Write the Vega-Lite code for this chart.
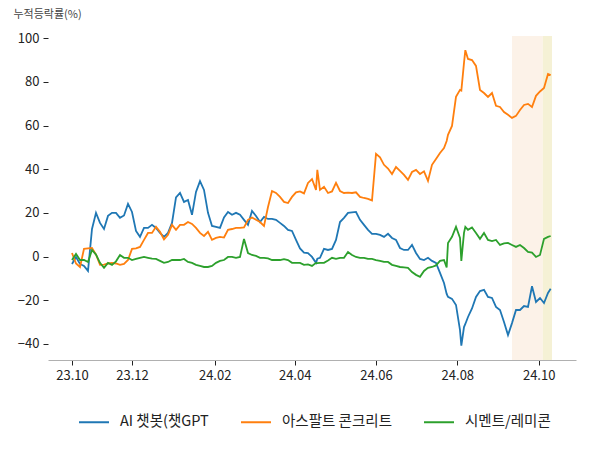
{
  "$schema": "https://vega.github.io/schema/vega-lite/v6.json",
  "width": 528,
  "height": 324,
  "autosize": {"type": "none"},
  "padding": {"left": 48, "top": 36, "right": 24, "bottom": 90},
  "background": "white",
  "config": {"font": "Noto Sans CJK KR", "view": {"stroke": null}, "axis": {"grid": false}},
  "datasets": {
    "bands": [
      {"start": "2024-09-11", "end": "2024-10-04", "kind": "p1"},
      {"start": "2024-10-04", "end": "2024-10-11", "kind": "p2"}
    ],
    "series": [
      {"d": "2023-10-17", "ai": -3.4, "asphalt": 1.6, "cement": -1.6},
      {"d": "2023-10-20", "ai": -0.2, "asphalt": -3.2, "cement": 1.2},
      {"d": "2023-10-23", "ai": -3.4, "asphalt": -4.8, "cement": -1.6},
      {"d": "2023-10-26", "ai": -4.3, "asphalt": 3.5, "cement": -1.6},
      {"d": "2023-10-29", "ai": -6.6, "asphalt": 3.7, "cement": -2.5},
      {"d": "2023-11-01", "ai": 12.6, "asphalt": 3.9, "cement": 3.0},
      {"d": "2023-11-04", "ai": 20.0, "asphalt": 0.9, "cement": 0.9},
      {"d": "2023-11-07", "ai": 15.4, "asphalt": -3.8, "cement": -2.9},
      {"d": "2023-11-10", "ai": 12.6, "asphalt": -3.7, "cement": -5.2},
      {"d": "2023-11-13", "ai": 18.6, "asphalt": -3.2, "cement": -2.9},
      {"d": "2023-11-16", "ai": 20.0, "asphalt": -2.9, "cement": -3.8},
      {"d": "2023-11-19", "ai": 20.0, "asphalt": -3.2, "cement": -2.2},
      {"d": "2023-11-22", "ai": 17.7, "asphalt": -3.8, "cement": 0.7},
      {"d": "2023-11-25", "ai": 18.8, "asphalt": -3.4, "cement": -0.6},
      {"d": "2023-11-28", "ai": 24.1, "asphalt": -1.6, "cement": -0.6},
      {"d": "2023-12-01", "ai": 20.4, "asphalt": 3.5, "cement": -1.6},
      {"d": "2023-12-04", "ai": 11.7, "asphalt": 3.7, "cement": -1.1},
      {"d": "2023-12-07", "ai": 9.0, "asphalt": 4.4, "cement": -0.6},
      {"d": "2023-12-10", "ai": 13.1, "asphalt": 7.6, "cement": -0.2},
      {"d": "2023-12-13", "ai": 13.1, "asphalt": 10.8, "cement": -0.6},
      {"d": "2023-12-16", "ai": 14.5, "asphalt": 10.8, "cement": -1.0},
      {"d": "2023-12-19", "ai": 13.1, "asphalt": 13.6, "cement": -1.1},
      {"d": "2023-12-22", "ai": 10.8, "asphalt": 11.3, "cement": -2.0},
      {"d": "2023-12-25", "ai": 9.0, "asphalt": 7.8, "cement": -2.9},
      {"d": "2023-12-28", "ai": 10.8, "asphalt": 9.9, "cement": -2.5},
      {"d": "2023-12-31", "ai": 15.4, "asphalt": 14.5, "cement": -1.6},
      {"d": "2024-01-03", "ai": 27.1, "asphalt": 12.2, "cement": -1.6},
      {"d": "2024-01-06", "ai": 29.1, "asphalt": 14.5, "cement": -1.6},
      {"d": "2024-01-09", "ai": 25.0, "asphalt": 14.5, "cement": -1.1},
      {"d": "2024-01-12", "ai": 25.9, "asphalt": 15.8, "cement": -2.5},
      {"d": "2024-01-15", "ai": 19.1, "asphalt": 14.9, "cement": -2.9},
      {"d": "2024-01-18", "ai": 29.6, "asphalt": 13.1, "cement": -3.8},
      {"d": "2024-01-21", "ai": 34.5, "asphalt": 10.8, "cement": -4.3},
      {"d": "2024-01-24", "ai": 30.5, "asphalt": 9.4, "cement": -4.8},
      {"d": "2024-01-27", "ai": 20.0, "asphalt": 11.3, "cement": -4.8},
      {"d": "2024-01-30", "ai": 14.0, "asphalt": 7.6, "cement": -4.3},
      {"d": "2024-02-02", "ai": 13.6, "asphalt": 8.5, "cement": -2.9},
      {"d": "2024-02-05", "ai": 13.1, "asphalt": 9.0, "cement": -2.0},
      {"d": "2024-02-08", "ai": 17.9, "asphalt": 8.7, "cement": -1.6},
      {"d": "2024-02-11", "ai": 20.4, "asphalt": 12.2, "cement": -0.2},
      {"d": "2024-02-14", "ai": 19.1, "asphalt": 12.6, "cement": -0.2},
      {"d": "2024-02-17", "ai": 20.0, "asphalt": 13.1, "cement": -0.6},
      {"d": "2024-02-20", "ai": 19.1, "asphalt": 13.1, "cement": -0.2},
      {"d": "2024-02-23", "ai": 16.8, "asphalt": 13.3, "cement": 8.0},
      {"d": "2024-02-26", "ai": 14.5, "asphalt": 16.8, "cement": 1.6},
      {"d": "2024-02-29", "ai": 20.9, "asphalt": 17.9, "cement": 0.7},
      {"d": "2024-03-03", "ai": 18.6, "asphalt": 16.8, "cement": 0.3},
      {"d": "2024-03-06", "ai": 15.8, "asphalt": 15.8, "cement": -0.6},
      {"d": "2024-03-09", "ai": 18.1, "asphalt": 14.0, "cement": -0.6},
      {"d": "2024-03-12", "ai": 17.2, "asphalt": 22.7, "cement": -0.9},
      {"d": "2024-03-15", "ai": 17.2, "asphalt": 30.0, "cement": -1.6},
      {"d": "2024-03-18", "ai": 16.8, "asphalt": 29.1, "cement": -1.6},
      {"d": "2024-03-21", "ai": 15.4, "asphalt": 27.3, "cement": -1.6},
      {"d": "2024-03-24", "ai": 14.0, "asphalt": 25.0, "cement": -1.2},
      {"d": "2024-03-27", "ai": 12.2, "asphalt": 24.5, "cement": -1.6},
      {"d": "2024-03-30", "ai": 11.7, "asphalt": 27.3, "cement": -2.9},
      {"d": "2024-04-02", "ai": 7.6, "asphalt": 29.4, "cement": -2.9},
      {"d": "2024-04-05", "ai": 3.7, "asphalt": 29.8, "cement": -2.9},
      {"d": "2024-04-08", "ai": 1.8, "asphalt": 28.9, "cement": -3.8},
      {"d": "2024-04-11", "ai": 1.6, "asphalt": 33.7, "cement": -3.6},
      {"d": "2024-04-14", "ai": -0.2, "asphalt": 35.5, "cement": -4.3},
      {"d": "2024-04-17", "ai": -2.9, "asphalt": 30.5, "cement": -2.9},
      {"d": "2024-04-18", "ai": -1.0, "asphalt": 39.7, "cement": -3.0},
      {"d": "2024-04-20", "ai": -0.6, "asphalt": 30.5, "cement": -2.9},
      {"d": "2024-04-23", "ai": 3.5, "asphalt": 31.9, "cement": -2.9},
      {"d": "2024-04-26", "ai": 3.0, "asphalt": 29.1, "cement": -1.8},
      {"d": "2024-04-29", "ai": 3.5, "asphalt": 29.8, "cement": -0.6},
      {"d": "2024-05-02", "ai": 7.6, "asphalt": 33.7, "cement": -1.1},
      {"d": "2024-05-05", "ai": 15.8, "asphalt": 30.0, "cement": -0.6},
      {"d": "2024-05-08", "ai": 17.7, "asphalt": 29.1, "cement": -0.6},
      {"d": "2024-05-11", "ai": 20.0, "asphalt": 29.3, "cement": 2.1},
      {"d": "2024-05-14", "ai": 20.2, "asphalt": 29.1, "cement": 0.7},
      {"d": "2024-05-17", "ai": 20.4, "asphalt": 29.4, "cement": -0.2},
      {"d": "2024-05-20", "ai": 16.8, "asphalt": 27.3, "cement": -0.6},
      {"d": "2024-05-23", "ai": 14.5, "asphalt": 26.8, "cement": -0.6},
      {"d": "2024-05-26", "ai": 12.2, "asphalt": 26.4, "cement": -1.1},
      {"d": "2024-05-29", "ai": 10.4, "asphalt": 25.7, "cement": -1.1},
      {"d": "2024-06-01", "ai": 10.4, "asphalt": 47.0, "cement": -1.6},
      {"d": "2024-06-04", "ai": 9.9, "asphalt": 45.4, "cement": -2.0},
      {"d": "2024-06-07", "ai": 9.0, "asphalt": 42.0, "cement": -2.5},
      {"d": "2024-06-10", "ai": 10.4, "asphalt": 40.3, "cement": -2.5},
      {"d": "2024-06-13", "ai": 8.5, "asphalt": 37.8, "cement": -3.8},
      {"d": "2024-06-16", "ai": 7.6, "asphalt": 41.0, "cement": -4.3},
      {"d": "2024-06-19", "ai": 3.9, "asphalt": 39.2, "cement": -4.8},
      {"d": "2024-06-22", "ai": 3.0, "asphalt": 37.4, "cement": -5.0},
      {"d": "2024-06-25", "ai": 3.0, "asphalt": 35.1, "cement": -5.2},
      {"d": "2024-06-28", "ai": 5.3, "asphalt": 38.7, "cement": -7.1},
      {"d": "2024-07-01", "ai": 1.6, "asphalt": 39.7, "cement": -8.4},
      {"d": "2024-07-04", "ai": -1.1, "asphalt": 37.8, "cement": -9.3},
      {"d": "2024-07-07", "ai": -1.6, "asphalt": 39.0, "cement": -6.6},
      {"d": "2024-07-10", "ai": -0.6, "asphalt": 34.6, "cement": -5.2},
      {"d": "2024-07-13", "ai": -2.0, "asphalt": 42.0, "cement": -4.8},
      {"d": "2024-07-16", "ai": -2.9, "asphalt": 44.7, "cement": -4.1},
      {"d": "2024-07-19", "ai": -7.5, "asphalt": 47.4, "cement": -2.0},
      {"d": "2024-07-22", "ai": -12.1, "asphalt": 49.7, "cement": -1.6},
      {"d": "2024-07-24", "ai": -17.1, "asphalt": 52.9, "cement": -5.0},
      {"d": "2024-07-25", "ai": -18.5, "asphalt": 55.7, "cement": 6.2},
      {"d": "2024-07-28", "ai": -19.4, "asphalt": 59.8, "cement": 9.0},
      {"d": "2024-07-31", "ai": -22.2, "asphalt": 73.1, "cement": 13.6},
      {"d": "2024-08-03", "ai": -33.7, "asphalt": 76.3, "cement": 8.5},
      {"d": "2024-08-04", "ai": -40.8, "asphalt": 76.0, "cement": -2.0},
      {"d": "2024-08-06", "ai": -32.3, "asphalt": 88.7, "cement": 10.8},
      {"d": "2024-08-07", "ai": -30.9, "asphalt": 94.5, "cement": 13.6},
      {"d": "2024-08-09", "ai": -27.7, "asphalt": 90.5, "cement": 12.2},
      {"d": "2024-08-12", "ai": -23.8, "asphalt": 90.0, "cement": 13.3},
      {"d": "2024-08-15", "ai": -18.5, "asphalt": 87.3, "cement": 10.8},
      {"d": "2024-08-18", "ai": -15.8, "asphalt": 76.3, "cement": 8.1},
      {"d": "2024-08-21", "ai": -15.3, "asphalt": 74.9, "cement": 10.8},
      {"d": "2024-08-24", "ai": -18.5, "asphalt": 73.1, "cement": 7.6},
      {"d": "2024-08-27", "ai": -19.0, "asphalt": 74.9, "cement": 7.1},
      {"d": "2024-08-30", "ai": -23.1, "asphalt": 69.0, "cement": 7.6},
      {"d": "2024-09-02", "ai": -24.5, "asphalt": 68.5, "cement": 5.3},
      {"d": "2024-09-05", "ai": -30.0, "asphalt": 66.2, "cement": 6.0},
      {"d": "2024-09-08", "ai": -36.0, "asphalt": 64.9, "cement": 6.2},
      {"d": "2024-09-11", "ai": -30.5, "asphalt": 63.5, "cement": 5.3},
      {"d": "2024-09-14", "ai": -24.5, "asphalt": 64.4, "cement": 4.4},
      {"d": "2024-09-17", "ai": -24.5, "asphalt": 67.1, "cement": 5.3},
      {"d": "2024-09-20", "ai": -22.7, "asphalt": 69.4, "cement": 3.9},
      {"d": "2024-09-23", "ai": -23.1, "asphalt": 69.9, "cement": 2.1},
      {"d": "2024-09-26", "ai": -13.6, "asphalt": 68.5, "cement": 1.8},
      {"d": "2024-09-29", "ai": -20.8, "asphalt": 73.6, "cement": -0.2},
      {"d": "2024-10-02", "ai": -19.0, "asphalt": 75.6, "cement": 0.7},
      {"d": "2024-10-05", "ai": -21.3, "asphalt": 77.2, "cement": 8.1},
      {"d": "2024-10-08", "ai": -16.7, "asphalt": 83.6, "cement": 9.0},
      {"d": "2024-10-10", "ai": -14.8, "asphalt": 83.1, "cement": 9.4}
    ]
  },
  "layer": [
    {
      "data": {"name": "bands"},
      "mark": {"type": "rect"},
      "encoding": {
        "x": {
          "field": "start", "type": "temporal",
          "scale": {"type": "utc", "domain": [{"year": 2023, "month": 9, "date": 29, "utc": true}, {"year": 2024, "month": 10, "date": 29, "utc": true}]},
          "axis": {
            "title": null,
            "values": [
              {"year": 2023, "month": 10, "date": 17, "utc": true},
              {"year": 2023, "month": 12, "date": 1, "utc": true},
              {"year": 2024, "month": 2, "date": 1, "utc": true},
              {"year": 2024, "month": 4, "date": 1, "utc": true},
              {"year": 2024, "month": 6, "date": 1, "utc": true},
              {"year": 2024, "month": 8, "date": 1, "utc": true},
              {"year": 2024, "month": 10, "date": 1, "utc": true}
            ],
            "format": "%y.%m",
            "domainColor": "#b0b0b0",
            "tickColor": "#222222",
            "tickSize": 5,
            "labelFontSize": 13,
            "labelColor": "#222222",
            "labelPadding": 4,
            "labelFlush": false,
            "labelOverlap": false
          }
        },
        "x2": {"field": "end"},
        "fill": {"field": "kind", "type": "nominal", "scale": {"domain": ["p1", "p2"], "range": ["#fcf2e8", "#f5f1d5"]}, "legend": null}
      }
    },
    {
      "data": {"name": "series"},
      "transform": [{"fold": ["ai", "asphalt", "cement"], "as": ["key", "value"]}],
      "mark": {"type": "line", "strokeWidth": 1.8},
      "encoding": {
        "x": {
          "field": "d", "type": "temporal",
          "scale": {"type": "utc", "domain": [{"year": 2023, "month": 9, "date": 29, "utc": true}, {"year": 2024, "month": 10, "date": 29, "utc": true}]},
          "axis": {
            "title": null,
            "values": [
              {"year": 2023, "month": 10, "date": 17, "utc": true},
              {"year": 2023, "month": 12, "date": 1, "utc": true},
              {"year": 2024, "month": 2, "date": 1, "utc": true},
              {"year": 2024, "month": 4, "date": 1, "utc": true},
              {"year": 2024, "month": 6, "date": 1, "utc": true},
              {"year": 2024, "month": 8, "date": 1, "utc": true},
              {"year": 2024, "month": 10, "date": 1, "utc": true}
            ],
            "format": "%y.%m",
            "domainColor": "#b0b0b0",
            "tickColor": "#222222",
            "tickSize": 5,
            "labelFontSize": 13,
            "labelColor": "#222222",
            "labelPadding": 4,
            "labelFlush": false,
            "labelOverlap": false
          }
        },
        "y": {
          "field": "value", "type": "quantitative",
          "scale": {"domain": [-47.4, 101], "nice": false, "zero": false},
          "axis": {
            "values": [-40, -20, 0, 20, 40, 60, 80, 100],
            "title": "누적등락률(%)",
            "titleAngle": 0,
            "titleAlign": "left",
            "titleBaseline": "alphabetic",
            "titleX": -35,
            "titleY": -19,
            "titleFontSize": 11,
            "titleFontWeight": "normal",
            "titleColor": "#444444",
            "domain": false,
            "tickSize": 5,
            "tickColor": "#222222",
            "labelFontSize": 13,
            "labelColor": "#222222",
            "labelPadding": 4
          }
        },
        "color": {
          "field": "key", "type": "nominal",
          "scale": {"domain": ["ai", "asphalt", "cement"], "range": ["#1f77b4", "#ff7f0e", "#2ca02c"]},
          "legend": {
            "orient": "none",
            "legendX": 30,
            "legendY": 370,
            "direction": "horizontal",
            "title": null,
            "symbolType": "stroke",
            "symbolSize": 900,
            "symbolStrokeWidth": 2,
            "labelFontSize": 14.5,
            "labelColor": "#222222",
            "labelOffset": 10,
            "columnPadding": 28,
            "padding": 0,
            "labelExpr": "datum.value == 'ai' ? 'AI 챗봇(챗GPT' : datum.value == 'asphalt' ? '아스팔트 콘크리트' : '시멘트/레미콘'"
          }
        }
      }
    }
  ]
}
